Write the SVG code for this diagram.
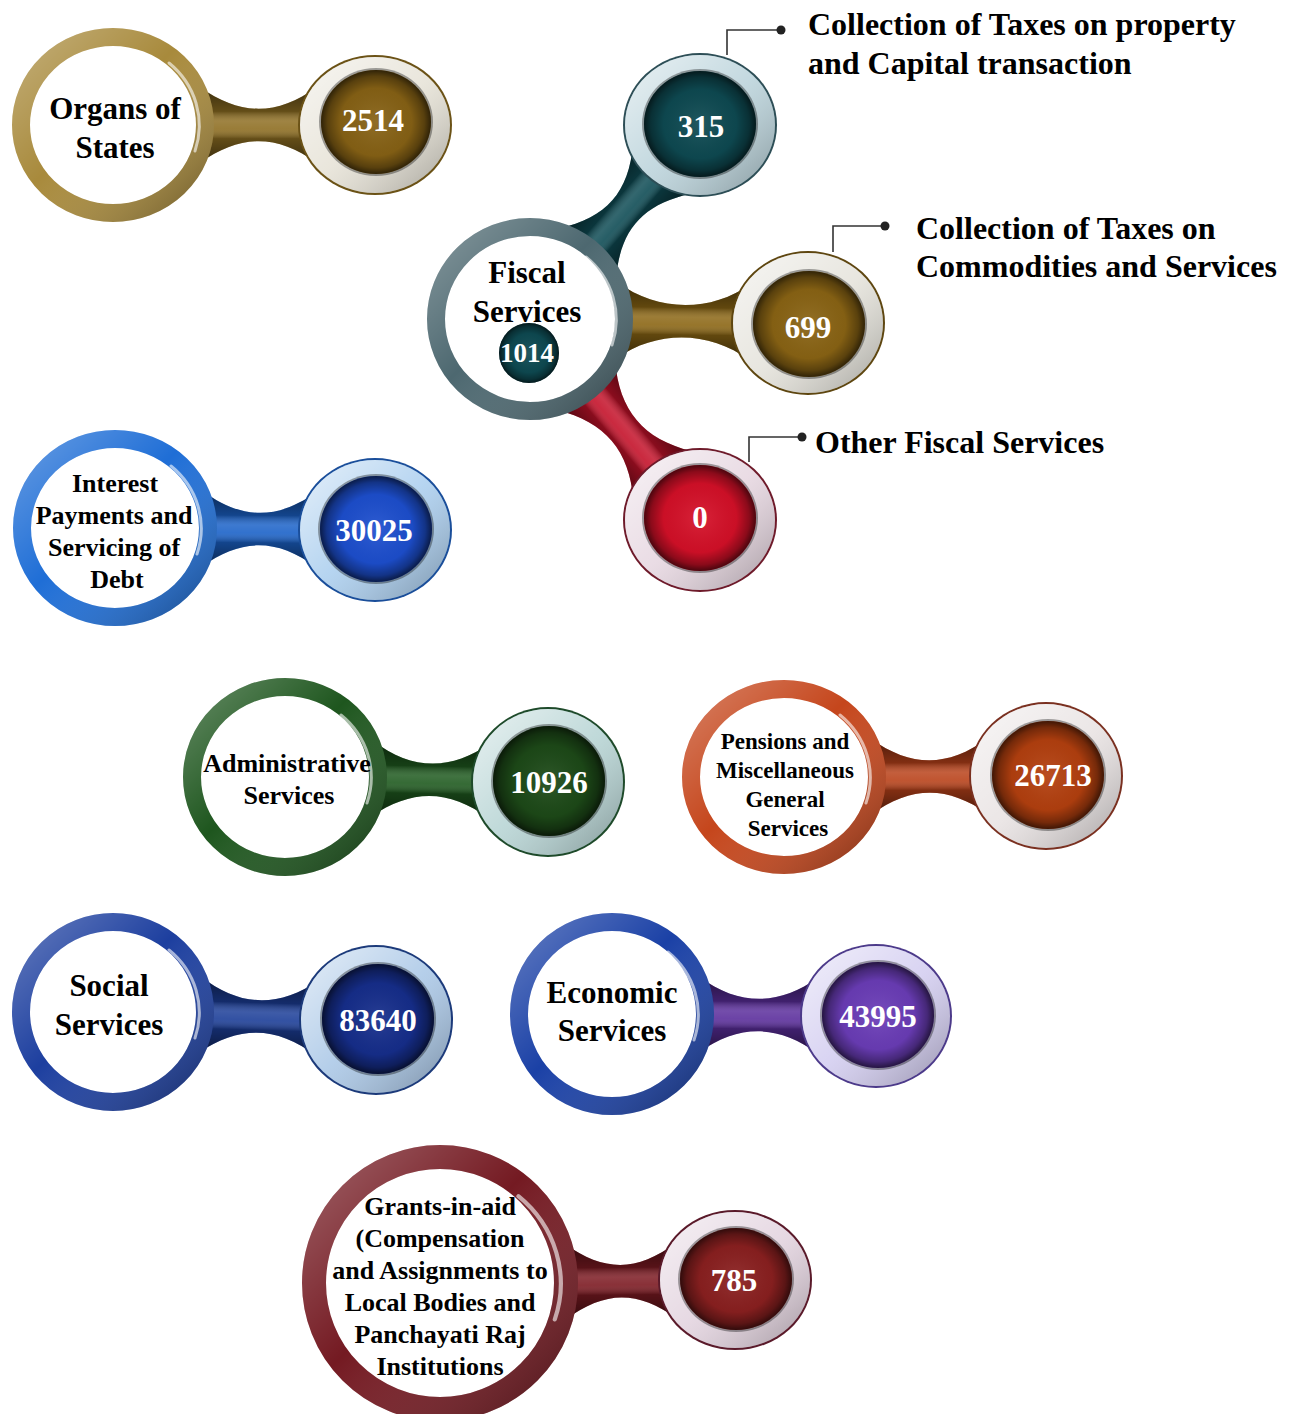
<svg xmlns="http://www.w3.org/2000/svg" xmlns:xlink="http://www.w3.org/1999/xlink" width="1297" height="1414" viewBox="0 0 1297 1414">
<style>
.lbl{font-family:"Liberation Serif","Times New Roman",serif;font-weight:bold;fill:#000;text-anchor:middle}
.num{font-family:"Liberation Serif","Times New Roman",serif;font-weight:bold;fill:#fff;text-anchor:middle;font-size:31px}
.side{font-family:"Liberation Serif","Times New Roman",serif;font-weight:bold;fill:#000;font-size:32px}
.big{stroke-width:18}
.shine{fill:none;stroke:url(#ringShine);stroke-width:18}
.gloss{fill:none;stroke:#fff;stroke-opacity:.6;stroke-width:3;stroke-linecap:round}
.lead{fill:none;stroke:#333;stroke-width:1.6}
.dot{fill:#222}
</style>
<defs>
<linearGradient id="neckShade" x1="0" y1="0" x2="0" y2="1">
<stop offset="0" stop-color="#000" stop-opacity=".6"/>
<stop offset=".32" stop-color="#000" stop-opacity=".3"/>
<stop offset=".45" stop-color="#fff" stop-opacity=".15"/>
<stop offset=".55" stop-color="#fff" stop-opacity=".1"/>
<stop offset=".68" stop-color="#000" stop-opacity=".3"/>
<stop offset="1" stop-color="#000" stop-opacity=".6"/>
</linearGradient>
<linearGradient id="ringShine" x1="0" y1="0" x2="1" y2="1">
<stop offset="0" stop-color="#fff" stop-opacity=".3"/>
<stop offset=".45" stop-color="#fff" stop-opacity="0"/>
<stop offset="1" stop-color="#000" stop-opacity=".35"/>
</linearGradient>
<linearGradient id="bandShine" x1="0" y1="0" x2="1" y2="1">
<stop offset="0" stop-color="#fff" stop-opacity=".7"/>
<stop offset=".5" stop-color="#fff" stop-opacity=".15"/>
<stop offset="1" stop-color="#000" stop-opacity=".3"/>
</linearGradient>
<radialGradient id="discShade" cx=".5" cy=".5" r=".5">
<stop offset="0" stop-color="#fff" stop-opacity=".08"/>
<stop offset=".65" stop-color="#000" stop-opacity=".05"/>
<stop offset=".88" stop-color="#000" stop-opacity=".35"/>
<stop offset="1" stop-color="#000" stop-opacity=".65"/>
</radialGradient>
<path id="gloss" d="M56,-62 A86,82 0 0 1 82,26"/>
</defs>
<rect width="1297" height="1414" fill="#fff"/>

<g id="connectors">
<path transform="translate(113,125)" fill="#8E6E22" d="M87,-38 C127,-9 164,-9 204,-38 L204,38 C164,9 127,9 87,38 Z"/>
<path transform="translate(113,125)" fill="url(#neckShade)" d="M87,-38 C127,-9 164,-9 204,-38 L204,38 C164,9 127,9 87,38 Z"/>
<path transform="translate(530,319) rotate(-48.77)" fill="#0F4C55" d="M87,-38 C127,-9 160,-9 200,-38 L200,38 C160,9 127,9 87,38 Z"/>
<path transform="translate(530,319) rotate(-48.77)" fill="url(#neckShade)" d="M87,-38 C127,-9 160,-9 200,-38 L200,38 C160,9 127,9 87,38 Z"/>
<path transform="translate(530,319) rotate(0.82)" fill="#8B6614" d="M87,-38 C127,-9 180,-9 220,-38 L220,38 C180,9 127,9 87,38 Z"/>
<path transform="translate(530,319) rotate(0.82)" fill="url(#neckShade)" d="M87,-38 C127,-9 180,-9 220,-38 L220,38 C180,9 127,9 87,38 Z"/>
<path transform="translate(530,319) rotate(49.78)" fill="#C4122A" d="M87,-38 C127,-9 165,-9 205,-38 L205,38 C165,9 127,9 87,38 Z"/>
<path transform="translate(530,319) rotate(49.78)" fill="url(#neckShade)" d="M87,-38 C127,-9 165,-9 205,-38 L205,38 C165,9 127,9 87,38 Z"/>
<path transform="translate(115,528) rotate(0.44)" fill="#1B62C8" d="M87,-38 C127,-9 162,-9 202,-38 L202,38 C162,9 127,9 87,38 Z"/>
<path transform="translate(115,528) rotate(0.44)" fill="url(#neckShade)" d="M87,-38 C127,-9 162,-9 202,-38 L202,38 C162,9 127,9 87,38 Z"/>
<path transform="translate(285,777) rotate(1.09)" fill="#1F5A1F" d="M87,-38 C127,-9 165,-9 205,-38 L205,38 C165,9 127,9 87,38 Z"/>
<path transform="translate(285,777) rotate(1.09)" fill="url(#neckShade)" d="M87,-38 C127,-9 165,-9 205,-38 L205,38 C165,9 127,9 87,38 Z"/>
<path transform="translate(784,777) rotate(-0.22)" fill="#B9421A" d="M87,-38 C127,-9 164,-9 204,-38 L204,38 C164,9 127,9 87,38 Z"/>
<path transform="translate(784,777) rotate(-0.22)" fill="url(#neckShade)" d="M87,-38 C127,-9 164,-9 204,-38 L204,38 C164,9 127,9 87,38 Z"/>
<path transform="translate(113,1012) rotate(1.74)" fill="#1C3E98" d="M87,-38 C127,-9 165,-9 205,-38 L205,38 C165,9 127,9 87,38 Z"/>
<path transform="translate(113,1012) rotate(1.74)" fill="url(#neckShade)" d="M87,-38 C127,-9 165,-9 205,-38 L205,38 C165,9 127,9 87,38 Z"/>
<path transform="translate(612,1014) rotate(0.43)" fill="#5B2E9C" d="M87,-38 C127,-9 166,-9 206,-38 L206,38 C166,9 127,9 87,38 Z"/>
<path transform="translate(612,1014) rotate(0.43)" fill="url(#neckShade)" d="M87,-38 C127,-9 166,-9 206,-38 L206,38 C166,9 127,9 87,38 Z"/>
<path transform="translate(440,1283) rotate(-0.58)" fill="#7C1A22" d="M125,-38 C165,-9 197,-9 237,-38 L237,38 C197,9 165,9 125,38 Z"/>
<path transform="translate(440,1283) rotate(-0.58)" fill="url(#neckShade)" d="M125,-38 C165,-9 197,-9 237,-38 L237,38 C197,9 165,9 125,38 Z"/>
<path class="lead" d="M727,55 V30 H781"/>
<circle class="dot" cx="781" cy="30" r="4.5"/>
<path class="lead" d="M833,252 V226 H885"/>
<circle class="dot" cx="885" cy="226" r="4.5"/>
<path class="lead" d="M749,462 V437 H802"/>
<circle class="dot" cx="802" cy="437" r="4.5"/>
</g>

<g id="organs">
<ellipse class="big" cx="113" cy="125" rx="92" ry="88" fill="#fff" stroke="#A88A3C"/>
<ellipse class="shine" cx="113" cy="125" rx="92" ry="88"/>
<use href="#gloss" xlink:href="#gloss" x="113" y="125" class="gloss"/>
<text class="lbl" font-size="31" x="115" y="119">Organs of</text>
<text class="lbl" font-size="31" x="115" y="158">States</text>
</g>
<g id="organs-value">
<ellipse cx="375" cy="125" rx="77" ry="70" fill="#6B5216"/>
<ellipse cx="375" cy="125" rx="75" ry="68" fill="#E6E2D6"/>
<ellipse cx="375" cy="125" rx="75" ry="68" fill="url(#bandShine)"/>
<ellipse cx="376" cy="122" rx="57" ry="54" fill="#000" fill-opacity=".35"/>
<ellipse cx="376" cy="122" rx="55" ry="52" fill="#876215"/>
<ellipse cx="376" cy="122" rx="55" ry="52" fill="url(#discShade)"/>
<text class="num" x="373" y="131">2514</text>
</g>

<g id="fiscal">
<ellipse class="big" cx="530" cy="319" rx="94" ry="92" fill="#fff" stroke="#4D6870"/>
<ellipse class="shine" cx="530" cy="319" rx="94" ry="92"/>
<use href="#gloss" xlink:href="#gloss" x="530" y="319" class="gloss"/>
<text class="lbl" font-size="31" x="527" y="283">Fiscal</text>
<text class="lbl" font-size="31" x="527" y="322">Services</text>
<circle cx="529" cy="353" r="30" fill="#0E4A52"/>
<circle cx="529" cy="353" r="30" fill="url(#discShade)"/>
<text class="num" font-size="27" style="font-size:27px" x="527" y="362">1014</text>
</g>

<g id="fiscal-property">
<ellipse cx="700" cy="125" rx="77" ry="72" fill="#2D4E56"/>
<ellipse cx="700" cy="125" rx="75" ry="70" fill="#B9D2DA"/>
<ellipse cx="700" cy="125" rx="75" ry="70" fill="url(#bandShine)"/>
<ellipse cx="700" cy="124" rx="58" ry="55" fill="#000" fill-opacity=".35"/>
<ellipse cx="700" cy="124" rx="56" ry="53" fill="#0E4A52"/>
<ellipse cx="700" cy="124" rx="56" ry="53" fill="url(#discShade)"/>
<text class="num" x="701" y="137">315</text>
<text class="side" x="808" y="35">Collection of Taxes on property</text>
<text class="side" x="808" y="74">and Capital transaction</text>
</g>

<g id="fiscal-commodities">
<ellipse cx="808" cy="323" rx="77" ry="72" fill="#5E4610"/>
<ellipse cx="808" cy="323" rx="75" ry="70" fill="#E4E2DA"/>
<ellipse cx="808" cy="323" rx="75" ry="70" fill="url(#bandShine)"/>
<ellipse cx="809" cy="324" rx="58" ry="55" fill="#000" fill-opacity=".35"/>
<ellipse cx="809" cy="324" rx="56" ry="53" fill="#8A6414"/>
<ellipse cx="809" cy="324" rx="56" ry="53" fill="url(#discShade)"/>
<text class="num" x="808" y="338">699</text>
<text class="side" x="916" y="239">Collection of Taxes on</text>
<text class="side" x="916" y="277">Commodities and Services</text>
</g>

<g id="fiscal-other">
<ellipse cx="700" cy="520" rx="77" ry="72" fill="#6E1A2A"/>
<ellipse cx="700" cy="520" rx="75" ry="70" fill="#E6D6E0"/>
<ellipse cx="700" cy="520" rx="75" ry="70" fill="url(#bandShine)"/>
<ellipse cx="700" cy="518" rx="58" ry="55" fill="#000" fill-opacity=".35"/>
<ellipse cx="700" cy="518" rx="56" ry="53" fill="#D51028"/>
<ellipse cx="700" cy="518" rx="56" ry="53" fill="url(#discShade)"/>
<text class="num" x="700" y="528">0</text>
<text class="side" x="815" y="453">Other Fiscal Services</text>
</g>

<g id="interest">
<ellipse class="big" cx="115" cy="528" rx="93" ry="89" fill="#fff" stroke="#1F6ED6"/>
<ellipse class="shine" cx="115" cy="528" rx="93" ry="89"/>
<use href="#gloss" xlink:href="#gloss" x="115" y="528" class="gloss"/>
<text class="lbl" font-size="26" x="115" y="492">Interest</text>
<text class="lbl" font-size="26" x="114" y="524">Payments and</text>
<text class="lbl" font-size="26" x="114" y="556">Servicing of</text>
<text class="lbl" font-size="26" x="117" y="588">Debt</text>
</g>
<g id="interest-value">
<ellipse cx="375" cy="530" rx="77" ry="72" fill="#1A4E9A"/>
<ellipse cx="375" cy="530" rx="75" ry="70" fill="#A9CDEE"/>
<ellipse cx="375" cy="530" rx="75" ry="70" fill="url(#bandShine)"/>
<ellipse cx="376" cy="529" rx="58" ry="55" fill="#000" fill-opacity=".35"/>
<ellipse cx="376" cy="529" rx="56" ry="53" fill="#1D4FCF"/>
<ellipse cx="376" cy="529" rx="56" ry="53" fill="url(#discShade)"/>
<text class="num" x="374" y="541">30025</text>
</g>

<g id="administrative">
<ellipse class="big" cx="285" cy="777" rx="93" ry="90" fill="#fff" stroke="#1E561E"/>
<ellipse class="shine" cx="285" cy="777" rx="93" ry="90"/>
<use href="#gloss" xlink:href="#gloss" x="285" y="777" class="gloss"/>
<text class="lbl" font-size="26" x="287" y="772">Administrative</text>
<text class="lbl" font-size="26" x="289" y="804">Services</text>
</g>
<g id="administrative-value">
<ellipse cx="548" cy="782" rx="77" ry="75" fill="#1E4A2A"/>
<ellipse cx="548" cy="782" rx="75" ry="73" fill="#B5D3D3"/>
<ellipse cx="548" cy="782" rx="75" ry="73" fill="url(#bandShine)"/>
<ellipse cx="549" cy="781" rx="58" ry="57" fill="#000" fill-opacity=".35"/>
<ellipse cx="549" cy="781" rx="56" ry="55" fill="#1D4A18"/>
<ellipse cx="549" cy="781" rx="56" ry="55" fill="url(#discShade)"/>
<text class="num" x="549" y="793">10926</text>
</g>

<g id="pensions">
<ellipse class="big" cx="784" cy="777" rx="93" ry="88" fill="#fff" stroke="#C5461C"/>
<ellipse class="shine" cx="784" cy="777" rx="93" ry="88"/>
<use href="#gloss" xlink:href="#gloss" x="784" y="777" class="gloss"/>
<text class="lbl" font-size="23" x="785" y="749">Pensions and</text>
<text class="lbl" font-size="23" x="785" y="778">Miscellaneous</text>
<text class="lbl" font-size="23" x="785" y="807">General</text>
<text class="lbl" font-size="23" x="788" y="836">Services</text>
</g>
<g id="pensions-value">
<ellipse cx="1046" cy="776" rx="77" ry="74" fill="#7A3020"/>
<ellipse cx="1046" cy="776" rx="75" ry="72" fill="#E8E2E2"/>
<ellipse cx="1046" cy="776" rx="75" ry="72" fill="url(#bandShine)"/>
<ellipse cx="1048" cy="775" rx="58" ry="56" fill="#000" fill-opacity=".35"/>
<ellipse cx="1048" cy="775" rx="56" ry="54" fill="#B4400F"/>
<ellipse cx="1048" cy="775" rx="56" ry="54" fill="url(#discShade)"/>
<text class="num" x="1053" y="786">26713</text>
</g>

<g id="social">
<ellipse class="big" cx="113" cy="1012" rx="92" ry="90" fill="#fff" stroke="#1D3F9F"/>
<ellipse class="shine" cx="113" cy="1012" rx="92" ry="90"/>
<use href="#gloss" xlink:href="#gloss" x="113" y="1012" class="gloss"/>
<text class="lbl" font-size="31" x="109" y="996">Social</text>
<text class="lbl" font-size="31" x="109" y="1035">Services</text>
</g>
<g id="social-value">
<ellipse cx="376" cy="1020" rx="77" ry="75" fill="#1C3A7A"/>
<ellipse cx="376" cy="1020" rx="75" ry="73" fill="#A8C6E6"/>
<ellipse cx="376" cy="1020" rx="75" ry="73" fill="url(#bandShine)"/>
<ellipse cx="378" cy="1019" rx="58" ry="57" fill="#000" fill-opacity=".35"/>
<ellipse cx="378" cy="1019" rx="56" ry="55" fill="#162E8C"/>
<ellipse cx="378" cy="1019" rx="56" ry="55" fill="url(#discShade)"/>
<text class="num" x="378" y="1031">83640</text>
</g>

<g id="economic">
<ellipse class="big" cx="612" cy="1014" rx="93" ry="92" fill="#fff" stroke="#1B41A6"/>
<ellipse class="shine" cx="612" cy="1014" rx="93" ry="92"/>
<use href="#gloss" xlink:href="#gloss" x="612" y="1014" class="gloss"/>
<text class="lbl" font-size="31" x="612" y="1003">Economic</text>
<text class="lbl" font-size="31" x="612" y="1041">Services</text>
</g>
<g id="economic-value">
<ellipse cx="876" cy="1016" rx="76" ry="72" fill="#4C3A8A"/>
<ellipse cx="876" cy="1016" rx="74" ry="70" fill="#D2CCF0"/>
<ellipse cx="876" cy="1016" rx="74" ry="70" fill="url(#bandShine)"/>
<ellipse cx="878" cy="1015" rx="58" ry="55" fill="#000" fill-opacity=".35"/>
<ellipse cx="878" cy="1015" rx="56" ry="53" fill="#6B3DB8"/>
<ellipse cx="878" cy="1015" rx="56" ry="53" fill="url(#discShade)"/>
<text class="num" x="878" y="1027">43995</text>
</g>

<g id="grants">
<ellipse cx="440" cy="1283" rx="126" ry="126" fill="#fff" stroke="#741A22" stroke-width="24"/>
<ellipse cx="440" cy="1283" rx="126" ry="126" fill="none" stroke="url(#ringShine)" stroke-width="24"/>
<use href="#gloss" xlink:href="#gloss" transform="translate(440,1283) scale(1.4)" class="gloss"/>
<text class="lbl" font-size="26" x="440" y="1215">Grants-in-aid</text>
<text class="lbl" font-size="26" x="440" y="1247">(Compensation</text>
<text class="lbl" font-size="26" x="440" y="1279">and Assignments to</text>
<text class="lbl" font-size="26" x="440" y="1311">Local Bodies and</text>
<text class="lbl" font-size="26" x="440" y="1343">Panchayati Raj</text>
<text class="lbl" font-size="26" x="440" y="1375">Institutions</text>
</g>
<g id="grants-value">
<ellipse cx="735" cy="1280" rx="77" ry="70" fill="#5A1A2A"/>
<ellipse cx="735" cy="1280" rx="75" ry="68" fill="#E2D2DE"/>
<ellipse cx="735" cy="1280" rx="75" ry="68" fill="url(#bandShine)"/>
<ellipse cx="736" cy="1279" rx="58" ry="53" fill="#000" fill-opacity=".35"/>
<ellipse cx="736" cy="1279" rx="56" ry="51" fill="#8B2020"/>
<ellipse cx="736" cy="1279" rx="56" ry="51" fill="url(#discShade)"/>
<text class="num" x="734" y="1291">785</text>
</g>
</svg>
